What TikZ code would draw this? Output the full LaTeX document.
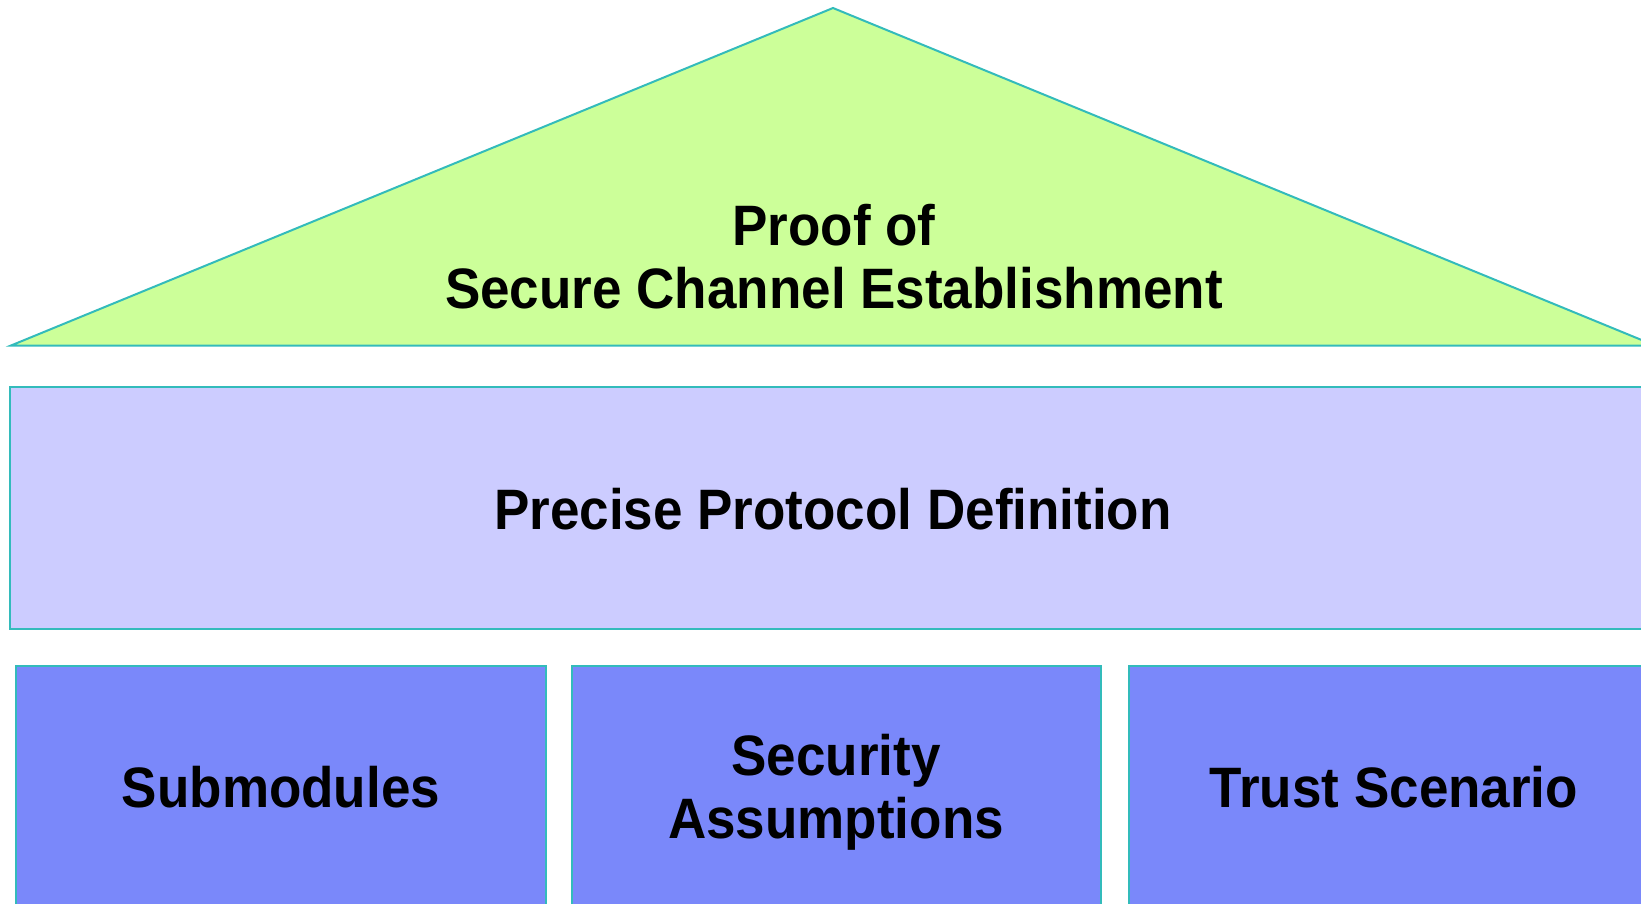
\documentclass[tikz,border=0pt]{standalone}
\usepackage{fontspec}
\newfontfamily\hfont[FakeStretch=0.93]{Liberation Sans}
\definecolor{roofgreen}{HTML}{CCFF99}
\definecolor{beamlav}{HTML}{CCCCFF}
\definecolor{pillarblue}{HTML}{7A88FA}
\definecolor{edgeteal}{HTML}{33BBBB}
\tikzset{
  part/.style={draw=edgeteal, line width=2pt},
  lbl/.style={anchor=base, inner sep=0pt, font=\hfont\bfseries\fontsize{57}{63}\selectfont, text=black}
}
\begin{document}
\begin{tikzpicture}[x=1pt,y=-1pt]
\useasboundingbox (0,0) rectangle (1641,903);
\begin{scope}
\clip (0,0) rectangle (1641,903);
% roof
\path[part, fill=roofgreen] (11,345.5) -- (833,8) -- (1655,345.5) -- cycle;
% beam
\path[part, fill=beamlav] (9.5,387) rectangle (1660,629);
% pillars
\path[part, fill=pillarblue] (16,666) rectangle (546,930);
\path[part, fill=pillarblue] (572,666) rectangle (1101,930);
\path[part, fill=pillarblue] (1129,666) rectangle (1659,930);
\end{scope}
\node[lbl] (roof1) at (834,245) {Proof of};
\node[lbl] (roof2) at (834,308) {Secure Channel Establishment};
\node[lbl] (beam) at (833,529) {Precise Protocol Definition};
\node[lbl] (sub) at (281,807) {Submodules};
\node[lbl] (sec1) at (836,775) {Security};
\node[lbl] (sec2) at (836,838) {Assumptions};
\node[lbl] (trust) at (1394,807) {Trust Scenario};
\end{tikzpicture}
\end{document}
